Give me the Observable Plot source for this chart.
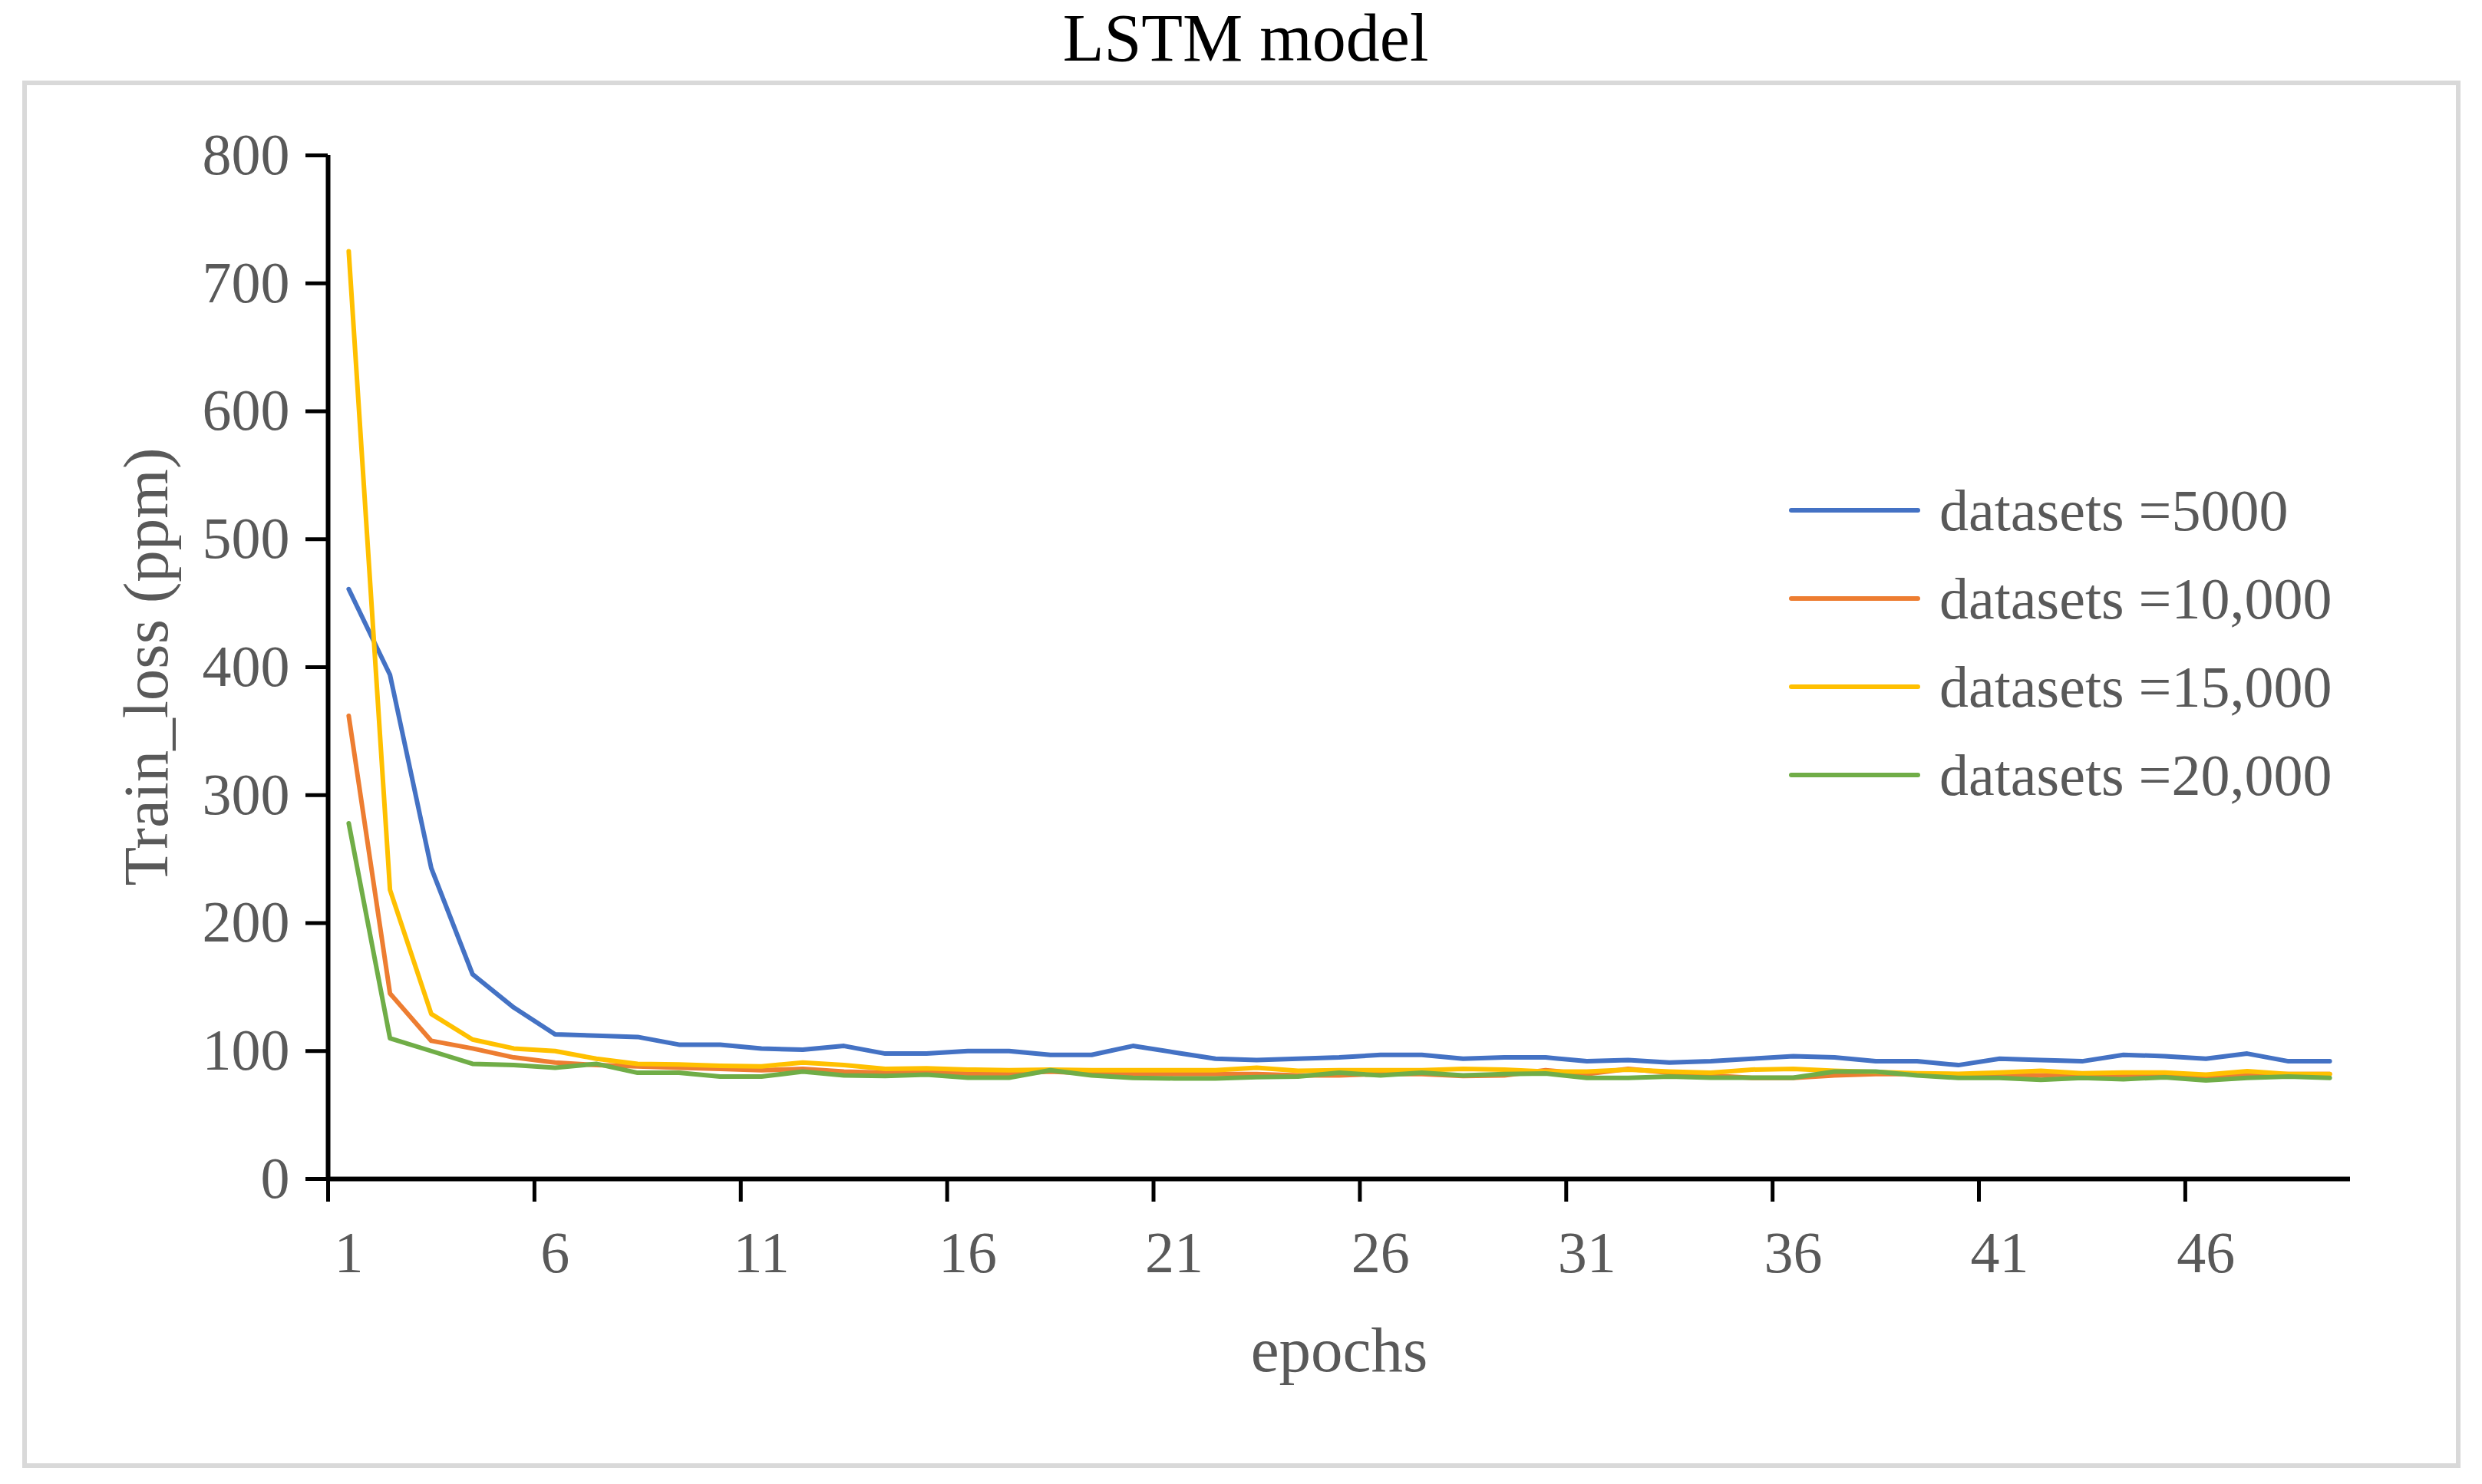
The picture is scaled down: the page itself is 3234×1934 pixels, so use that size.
<!DOCTYPE html>
<html><head><meta charset="utf-8">
<script src="https://cdn.jsdelivr.net/npm/d3@7"></script>
<script src="https://cdn.jsdelivr.net/npm/@observablehq/plot@0.6"></script>
<style>
html,body{margin:0;padding:0;background:#fff;overflow:hidden;}
#wrap{position:relative;width:3234px;height:1934px;font-family:"Liberation Serif","Times New Roman",serif;}
#frame{position:absolute;left:29px;top:105px;width:3177px;height:1808px;border:6px solid #d9d9d9;box-sizing:border-box;}
#chart{position:absolute;left:0;top:0;}
#title{position:absolute;left:1623px;top:6px;transform:translateX(-50%);font-size:88px;line-height:1;color:#000;white-space:nowrap;}
#xtitle{position:absolute;left:1745px;top:1718px;transform:translateX(-50%);font-size:83px;line-height:1;color:#595959;white-space:nowrap;}
#ytitle{position:absolute;left:190px;top:869px;transform:translate(-50%,-50%) rotate(-90deg);font-size:83px;line-height:1;color:#595959;white-space:nowrap;}
.leg{position:absolute;font-size:76px;line-height:1;color:#595959;white-space:nowrap;}
.sw{position:absolute;height:6px;border-radius:3px;}
</style></head>
<body><div id="wrap">
<div id="frame"></div>
<div id="chart"></div>
<div id="title">LSTM model</div>
<div id="xtitle">epochs</div>
<div id="ytitle">Train_loss (ppm)</div>
<div id="legend"></div>
</div>
<script>
const epochs = [1,2,3,4,5,6,7,8,9,10,11,12,13,14,15,16,17,18,19,20,21,22,23,24,25,26,27,28,29,30,31,32,33,34,35,36,37,38,39,40,41,42,43,44,45,46,47,48,49];
const seriesNames = ["datasets =5000", "datasets =10,000", "datasets =15,000", "datasets =20,000"];
const seriesColors = ["#4472C4", "#ED7D31", "#FFC000", "#70AD47"];
const loss5000 = [461,394,243,160,134,113,112,111,105,105,102,101,104,98,98,100,100,97,97,104,99,94,93,94,95,97,97,94,95,95,92,93,91,92,94,96,95,92,92,89,94,93,92,97,96,94,98,92,92];
const loss10000 = [362,145,108,102,95,91,89,88,87,86,85,86,84,83,83.5,82.5,82.5,84,82.5,82,82,82,82,81,81,82,82,80.5,81,85,82,86,83,81,79,79,81,82,82,81,81,81,82,81,81,79,82,82,82];
const loss15000 = [725,226,129,109,102,100,94,90,89.5,88.5,88,91,89,86,86.5,85.5,85,85.5,85,85,85,85,87,84.5,85,85,85,86,85.5,84,84,85.5,84,83,85.5,86,84.5,83.6,82.6,82.2,83.2,84.6,82.6,83.2,83.2,81.6,84.2,82,82];
const loss20000 = [278,110,100,90,89,87,90,83,83,80,80,84,81,80.5,81.5,79.2,79.2,85,81,79,78.6,78.6,79.6,80,83,81,83,81,82,82.5,79,79,80,79.2,79.2,79.2,84,84,81,79,79,77.5,79,78,79.5,77,79,80,79];
const xTickLabels = [1,6,11,16,21,26,31,36,41,46];
const xTickBounds = [0.5,5.5,10.5,15.5,20.5,25.5,30.5,35.5,40.5,45.5];
const yTicks = [0,100,200,300,400,500,600,700,800];

const seriesValues = [loss5000, loss10000, loss15000, loss20000];
const table = [];
seriesNames.forEach((name, si) => {
  epochs.forEach((e, i) => table.push({series: name, epoch: e, loss: seriesValues[si][i]}));
});

const chart = Plot.plot({
  width: 3234, height: 1934,
  marginTop: 202, marginBottom: 398, marginLeft: 427, marginRight: 172,
  style: {fontFamily: '"Liberation Serif","Times New Roman",serif', background: "transparent", overflow: "visible"},
  x: {domain: [0.5, 49.5]},
  y: {domain: [0, 800]},
  color: {domain: seriesNames, range: seriesColors},
  marks: [
    Plot.axisY(yTicks, {tickSize: 29, tickPadding: 21, strokeWidth: 5, stroke: "#000", fill: "#595959", fontSize: 76, label: null}),
    Plot.axisX(xTickBounds, {tickSize: 30, strokeWidth: 5, stroke: "#000", tickFormat: () => "", label: null}),
    Plot.axisX(xTickLabels, {tickSize: 0, tickPadding: 68, fill: "#595959", fontSize: 76, label: null}),
    Plot.lineY(table, {x: "epoch", y: "loss", z: "series", stroke: "series", strokeWidth: 6, strokeLinejoin: "round"}),
    Plot.ruleX([0.5], {stroke: "#000", strokeWidth: 6}),
    Plot.ruleY([0], {stroke: "#000", strokeWidth: 6})
  ]
});
document.getElementById("chart").appendChild(chart);

const legend = document.getElementById("legend");
const rowLine = [665, 780, 895, 1010];
seriesNames.forEach((name, i) => {
  const sw = document.createElement("div");
  sw.className = "sw";
  sw.style.left = "2331px"; sw.style.width = "171px";
  sw.style.top = (rowLine[i] - 3) + "px";
  sw.style.background = seriesColors[i];
  legend.appendChild(sw);
  const t = document.createElement("div");
  t.className = "leg";
  t.style.left = "2527px";
  t.style.top = (rowLine[i] + 26 - 64) + "px";
  t.textContent = name;
  legend.appendChild(t);
});
</script>
</body></html>
